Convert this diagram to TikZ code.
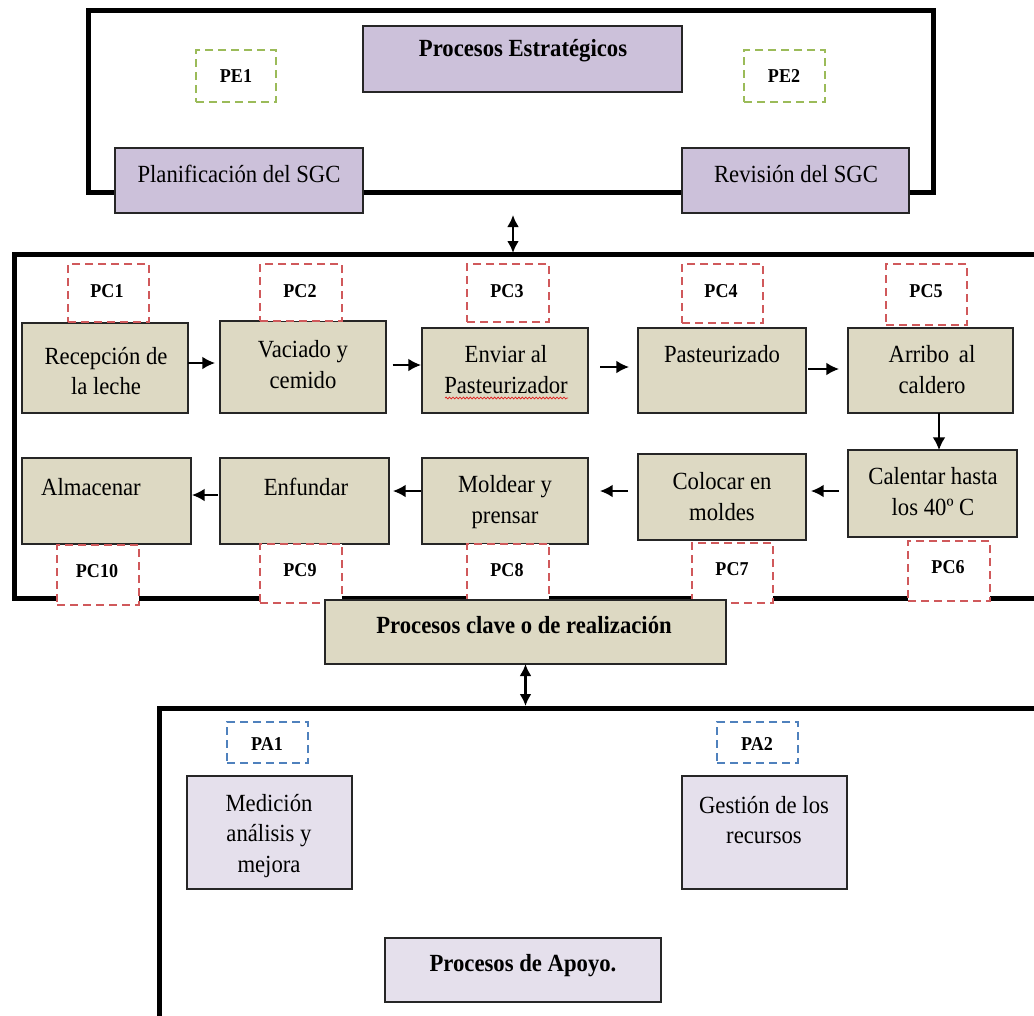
\documentclass[tikz,border=0pt]{standalone}
\usepackage{fontspec}
\setmainfont{Liberation Serif}[FakeStretch=0.92]
\usetikzlibrary{arrows.meta,decorations.pathmorphing}
\definecolor{lav}{HTML}{CCC1DA}
\definecolor{tanfill}{HTML}{DDD9C3}
\definecolor{palelav}{HTML}{E5E0EC}
\definecolor{tagred}{HTML}{D0595B}
\definecolor{taggreen}{HTML}{9BBB59}
\definecolor{tagblue}{HTML}{4F81BD}
\definecolor{spellred}{HTML}{E02020}

% box given by its corners in pixel units: name, style, x1, y1, x2, y2
\newcommand\boxat[6]{%
  \node[#2, minimum width={(#5-#3)*0.75pt}, minimum height={(#6-#4)*0.75pt}]
    (#1) at ({(#3+#5)/2},{(#4+#6)/2}) {};}

\tikzset{
  frame/.style={line width=3.75pt, draw=black},
  basebox/.style={draw=black!85, line width=1.1pt, inner sep=0pt, outer sep=0pt},
  lavbox/.style={basebox, fill=lav},
  tanbox/.style={basebox, fill=tanfill},
  palebox/.style={basebox, fill=palelav},
  tagbox/.style={fill=white, line width=1.1pt, dash pattern=on 6pt off 3.75pt,
    inner sep=0pt, outer sep=0pt},
  redtag/.style={tagbox, draw=tagred},
  greentag/.style={tagbox, draw=taggreen},
  bluetag/.style={tagbox, draw=tagblue},
  txt/.style={align=center, inner sep=0pt, font=\fontsize{18.5}{23.2}\selectfont},
  ttl/.style={txt, font=\fontsize{18.5}{23.2}\selectfont\bfseries},
  tag/.style={inner sep=0pt, font=\fontsize{14.7}{17}\selectfont\bfseries},
  flow/.style={line width=1.2pt, -{Latex[length=9.5pt,width=9.5pt]}},
  link/.style={line width=1.8pt, {Latex[length=9pt,width=9pt]}-{Latex[length=9pt,width=9pt]}},
}

\begin{document}
\begin{tikzpicture}[x=0.75pt,y=-0.75pt]
\useasboundingbox (0,0) rectangle (1034,1015);
\clip (0,0) rectangle (1034,1015);

% ---------- outer frames ----------
\draw[frame] (88,10) rectangle (933,192);
\draw[frame] (14,254) rectangle (1060,598);
\draw[frame] (159,708) rectangle (1060,1040);

% ---------- strategic processes ----------
\boxat{estr}{lavbox}{363}{26}{682}{92}
\node[ttl] (t-estr) at (523,51) {Procesos Estratégicos};
\boxat{pe1}{greentag}{196}{50}{276}{102}
\node[tag] (t-pe1) at (236,76) {PE1};
\boxat{pe2}{greentag}{744}{50}{825}{102}
\node[tag] (t-pe2) at (784,76) {PE2};
\boxat{plan}{lavbox}{115}{148}{363}{213}
\node[txt] (t-plan) at (239,174) {Planificación del SGC};
\boxat{rev}{lavbox}{682}{148}{909}{213}
\node[txt] (t-rev) at (796,174) {Revisión del SGC};

% ---------- key processes: upper row ----------
\boxat{recep}{tanbox}{22}{323}{188}{413}
\node[txt] (t-recep) at (106,371) {Recepción de\\la leche};
\boxat{vaci}{tanbox}{220}{321}{386}{413}
\node[txt] (t-vaci) at (303,365) {Vaciado y\\cemido};
\boxat{envi}{tanbox}{422}{328}{588}{413}
\node[txt] (t-envi) at (506,370) {Enviar al\\Pasteurizador};
\draw[spellred, line width=0.55pt, decorate,
  decoration={snake, amplitude=0.7pt, segment length=2.6pt}] (445,398) -- (568,398);
\boxat{past}{tanbox}{638}{328}{806}{413}
\node[txt] (t-past) at (722,354) {Pasteurizado};
\boxat{arri}{tanbox}{848}{328}{1013}{413}
\node[txt] (t-arri) at (932,370) {Arribo\, al\\caldero};

% ---------- key processes: lower row ----------
\boxat{alma}{tanbox}{22}{458}{191}{544}
\node[txt] (t-alma) at (91,487) {Almacenar};
\boxat{enfu}{tanbox}{220}{458}{389}{544}
\node[txt] (t-enfu) at (306,487) {Enfundar};
\boxat{mold}{tanbox}{422}{458}{588}{544}
\node[txt] (t-mold) at (505,502) {Moldear y\\prensar};
\boxat{colo}{tanbox}{638}{454}{806}{540}
\node[txt] (t-colo) at (722,497) {Colocar en\\moldes};
\boxat{cale}{tanbox}{848}{450}{1017}{537}
\node[txt] (t-cale) at (933,492) {Calentar hasta\\los 40º C};

% ---------- control points ----------
\boxat{pc1}{redtag}{68}{264}{149}{322}
\node[tag] (t-pc1) at (107,291) {PC1};
\boxat{pc2}{redtag}{260}{264}{342}{321}
\node[tag] (t-pc2) at (300,291) {PC2};
\boxat{pc3}{redtag}{467}{264}{549}{322}
\node[tag] (t-pc3) at (507,291) {PC3};
\boxat{pc4}{redtag}{682}{264}{763}{323}
\node[tag] (t-pc4) at (721,291) {PC4};
\boxat{pc5}{redtag}{886}{264}{967}{325}
\node[tag] (t-pc5) at (926,291) {PC5};
\boxat{pc6}{redtag}{908}{541}{990}{601}
\node[tag] (t-pc6) at (948,567) {PC6};
\boxat{pc7}{redtag}{692}{543}{773}{603}
\node[tag] (t-pc7) at (732,569) {PC7};
\boxat{pc8}{redtag}{467}{544}{549}{603}
\node[tag] (t-pc8) at (507,570) {PC8};
\boxat{pc9}{redtag}{260}{544}{342}{603}
\node[tag] (t-pc9) at (300,570) {PC9};
\boxat{pc10}{redtag}{57}{545}{139}{605}
\node[tag] (t-pc10) at (97,571) {PC10};

\boxat{clave}{tanbox}{325}{600}{726}{664}
\node[ttl] (t-clave) at (524,625) {Procesos clave o de realización};

% ---------- flow of the key processes ----------
\draw[flow, shorten >=3.75pt] (recep.east |- 0,363) -- (vaci.west |- 0,363);
\draw[flow, shorten <=5pt, shorten >=0.75pt] (vaci.east |- 0,365) -- (envi.west |- 0,365);
\draw[flow, shorten <=9pt, shorten >=6.75pt] (envi.east |- 0,367) -- (past.west |- 0,367);
\draw[flow, shorten <=1.5pt, shorten >=6.75pt] (past.east |- 0,369) -- (arri.west |- 0,369);
\draw[flow] (arri.south -| 939,0) -- (cale.north -| 939,0);
\draw[flow, shorten <=6.75pt, shorten >=3.75pt] (cale.west |- 0,491) -- (colo.east |- 0,491);
\draw[flow, shorten <=7.5pt, shorten >=9pt] (colo.west |- 0,491) -- (mold.east |- 0,491);
\draw[flow, shorten <=0.75pt, shorten >=3pt] (mold.west |- 0,491) -- (enfu.east |- 0,491);
\draw[flow, shorten <=1.5pt, shorten >=0.75pt] (enfu.west |- 0,495) -- (alma.east |- 0,495);

% ---------- links between the three groups ----------
\coordinate (linkA) at (513,215);
\coordinate (midtop) at (513,253);
\draw[link] (linkA) -- (midtop);
\coordinate (apoyotop) at (clave.south |- 0,706);
\draw[link] (clave.south) -- (apoyotop);

% ---------- support processes ----------
\boxat{pa1}{bluetag}{227}{722}{308}{763}
\node[tag] (t-pa1) at (267,744) {PA1};
\boxat{pa2}{bluetag}{717}{722}{798}{763}
\node[tag] (t-pa2) at (757,744) {PA2};
\boxat{medi}{palebox}{187}{776}{352}{889}
\node[txt] (t-medi) at (269,836) {Medición\\análisis y\\mejora};
\boxat{gest}{palebox}{682}{776}{847}{889}
\node[txt] (t-gest) at (764,820) {Gestión de los\\recursos};
\boxat{apoyo}{palebox}{385}{938}{661}{1002}
\node[ttl] (t-apoyo) at (523,966) {Procesos de Apoyo.};
\end{tikzpicture}
\end{document}
